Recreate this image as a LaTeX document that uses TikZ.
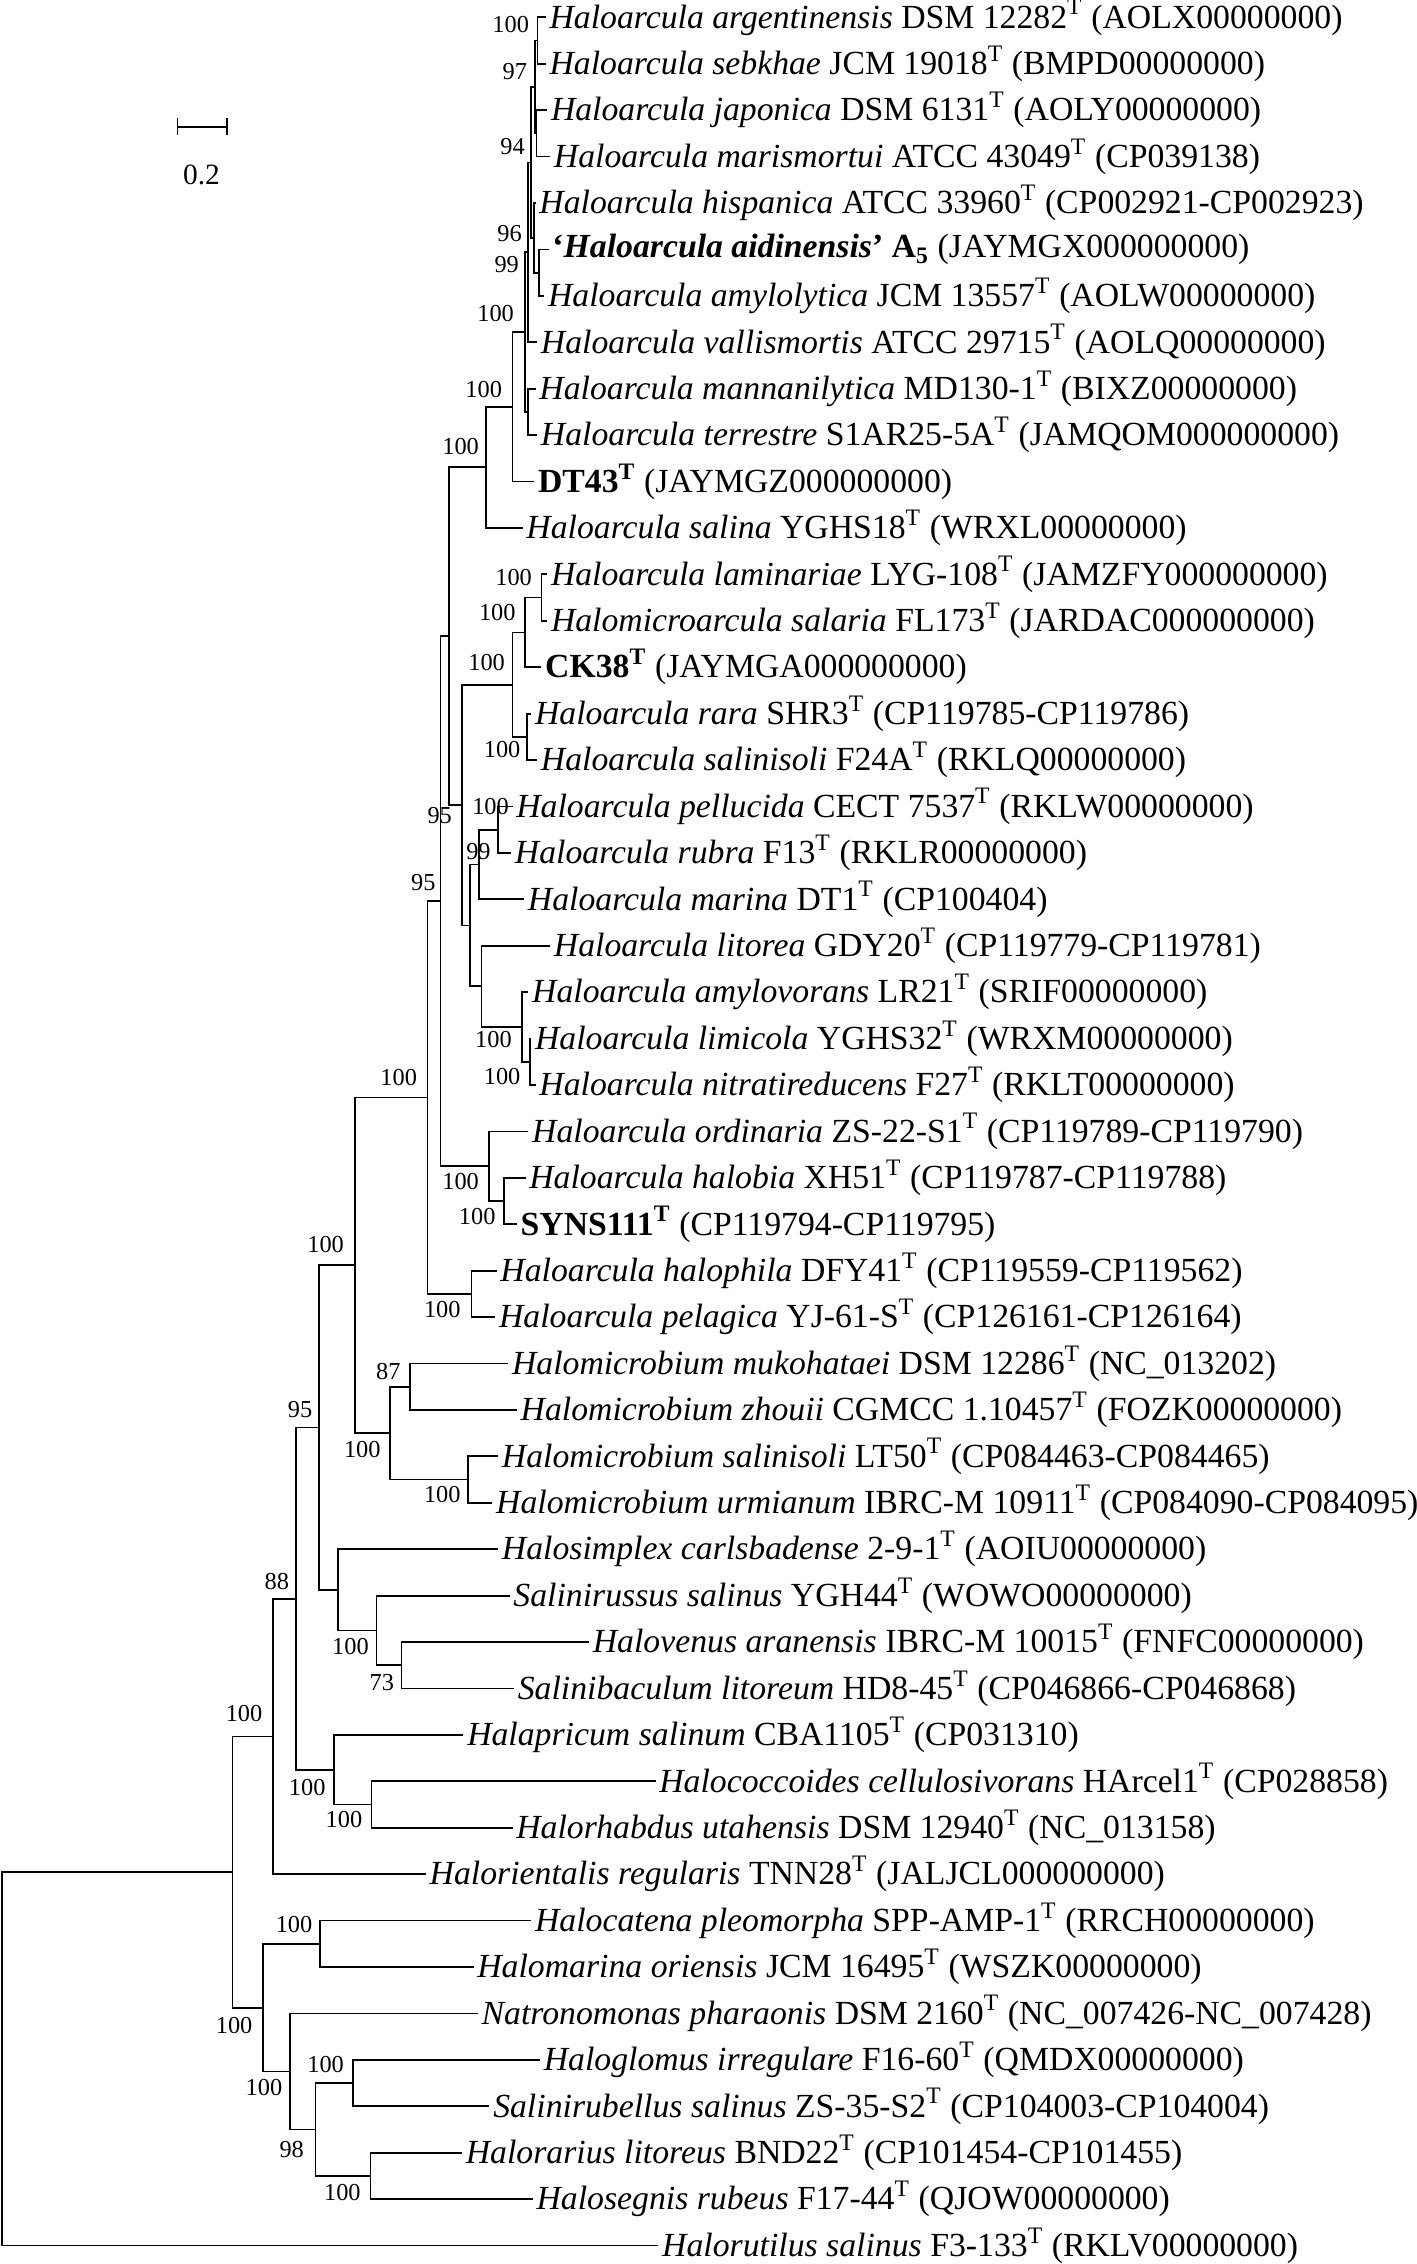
\documentclass[tikz,border=0pt]{standalone}
\usepackage{fontspec}
\setmainfont{Liberation Serif}
\usetikzlibrary{arrows.meta}

\begin{document}
\begin{tikzpicture}[x=0.02cm,y=-0.02cm,line width=0.7pt,
  leaf/.style={anchor=west,inner xsep=0.04cm,inner ysep=0pt,font=\fontsize{13.3}{15}\selectfont},
  boot/.style={anchor=east,inner sep=0pt,font=\fontsize{9.6}{11}\selectfont},
  scl/.style={inner sep=0pt,font=\fontsize{11.6}{13}\selectfont}]
\useasboundingbox (0,0) rectangle (981,1568);
% taxa, one row each
\foreach \x/\t [count=\i] in {
378/{\textit{Haloarcula argentinensis} DSM 12282\textsuperscript{T} (AOLX00000000)},
378/{\textit{Haloarcula sebkhae} JCM 19018\textsuperscript{T} (BMPD00000000)},
379/{\textit{Haloarcula japonica} DSM 6131\textsuperscript{T} (AOLY00000000)},
381/{\textit{Haloarcula marismortui} ATCC 43049\textsuperscript{T} (CP039138)},
371/{\textit{Haloarcula hispanica} ATCC 33960\textsuperscript{T} (CP002921-CP002923)},
380/{\textbf{‘\textit{Haloarcula aidinensis}’ A\textsubscript{5}} (JAYMGX000000000)},
377/{\textit{Haloarcula amylolytica} JCM 13557\textsuperscript{T} (AOLW00000000)},
372/{\textit{Haloarcula vallismortis} ATCC 29715\textsuperscript{T} (AOLQ00000000)},
371/{\textit{Haloarcula mannanilytica} MD130-1\textsuperscript{T} (BIXZ00000000)},
372/{\textit{Haloarcula terrestre} S1AR25-5A\textsuperscript{T} (JAMQOM000000000)},
370/{\textbf{DT43\textsuperscript{T}} (JAYMGZ000000000)},
362/{\textit{Haloarcula salina} YGHS18\textsuperscript{T} (WRXL00000000)},
379/{\textit{Haloarcula laminariae} LYG-108\textsuperscript{T} (JAMZFY000000000)},
379/{\textit{Halomicroarcula salaria} FL173\textsuperscript{T} (JARDAC000000000)},
375/{\textbf{CK38\textsuperscript{T}} (JAYMGA000000000)},
368/{\textit{Haloarcula rara} SHR3\textsuperscript{T} (CP119785-CP119786)},
372/{\textit{Haloarcula salinisoli} F24A\textsuperscript{T} (RKLQ00000000)},
355/{\textit{Haloarcula pellucida} CECT 7537\textsuperscript{T} (RKLW00000000)},
354/{\textit{Haloarcula rubra} F13\textsuperscript{T} (RKLR00000000)},
363/{\textit{Haloarcula marina} DT1\textsuperscript{T} (CP100404)},
381/{\textit{Haloarcula litorea} GDY20\textsuperscript{T} (CP119779-CP119781)},
366/{\textit{Haloarcula amylovorans} LR21\textsuperscript{T} (SRIF00000000)},
368/{\textit{Haloarcula limicola} YGHS32\textsuperscript{T} (WRXM00000000)},
371/{\textit{Haloarcula nitratireducens} F27\textsuperscript{T} (RKLT00000000)},
366/{\textit{Haloarcula ordinaria} ZS-22-S1\textsuperscript{T} (CP119789-CP119790)},
364/{\textit{Haloarcula halobia} XH51\textsuperscript{T} (CP119787-CP119788)},
358/{\textbf{SYNS111\textsuperscript{T}} (CP119794-CP119795)},
344/{\textit{Haloarcula halophila} DFY41\textsuperscript{T} (CP119559-CP119562)},
343/{\textit{Haloarcula pelagica} YJ-61-S\textsuperscript{T} (CP126161-CP126164)},
352/{\textit{Halomicrobium mukohataei} DSM 12286\textsuperscript{T} (NC\_013202)},
358/{\textit{Halomicrobium zhouii} CGMCC 1.10457\textsuperscript{T} (FOZK00000000)},
345/{\textit{Halomicrobium salinisoli} LT50\textsuperscript{T} (CP084463-CP084465)},
341/{\textit{Halomicrobium urmianum} IBRC-M 10911\textsuperscript{T} (CP084090-CP084095)},
345/{\textit{Halosimplex carlsbadense} 2-9-1\textsuperscript{T} (AOIU00000000)},
353/{\textit{Salinirussus salinus} YGH44\textsuperscript{T} (WOWO00000000)},
408/{\textit{Halovenus aranensis} IBRC-M 10015\textsuperscript{T} (FNFC00000000)},
356/{\textit{Salinibaculum litoreum} HD8-45\textsuperscript{T} (CP046866-CP046868)},
321/{\textit{Halapricum salinum} CBA1105\textsuperscript{T} (CP031310)},
454/{\textit{Halococcoides cellulosivorans} HArcel1\textsuperscript{T} (CP028858)},
355/{\textit{Halorhabdus utahensis} DSM 12940\textsuperscript{T} (NC\_013158)},
295/{\textit{Halorientalis regularis} TNN28\textsuperscript{T} (JALJCL000000000)},
368/{\textit{Halocatena pleomorpha} SPP-AMP-1\textsuperscript{T} (RRCH00000000)},
328/{\textit{Halomarina oriensis} JCM 16495\textsuperscript{T} (WSZK00000000)},
331/{\textit{Natronomonas pharaonis} DSM 2160\textsuperscript{T} (NC\_007426-NC\_007428)},
374/{\textit{Haloglomus irregulare} F16-60\textsuperscript{T} (QMDX00000000)},
339/{\textit{Salinirubellus salinus} ZS-35-S2\textsuperscript{T} (CP104003-CP104004)},
320/{\textit{Halorarius litoreus} BND22\textsuperscript{T} (CP101454-CP101455)},
369/{\textit{Halosegnis rubeus} F17-44\textsuperscript{T} (QJOW00000000)},
456/{\textit{Halorutilus salinus} F3-133\textsuperscript{T} (RKLV00000000)}}
  \node[leaf] (l\i) at (\x,{12+(\i-1)*32.15}) {\t};

% internal nodes
\coordinate (argseb) at (372.2,28.08);
\coordinate (japmar) at (371.5,92.38);
\coordinate (argjap) at (370.4,60.23);
\coordinate (aidamy) at (373.5,188.83);
\coordinate (hisaid) at (369.8,164.71);
\coordinate (argc) at (368,112.47);
\coordinate (valc) at (365.7,174.76);
\coordinate (manter) at (365.5,285.28);
\coordinate (manc) at (363.5,230.02);
\coordinate (dtc) at (355,281.76);
\coordinate (salc) at (336.5,323.70);
\coordinate (lamsal) at (375,413.88);
\coordinate (ckc) at (363.5,437.99);
\coordinate (rarsal) at (365,510.33);
\coordinate (rarc) at (355,474.16);
\coordinate (pelrub) at (345,574.63);
\coordinate (marc) at (331.6,598.74);
\coordinate (limnit) at (367,735.38);
\coordinate (amyc) at (361.6,711.26);
\coordinate (litc) at (333.4,683.13);
\coordinate (pelc) at (325.4,640.94);
\coordinate (lamc) at (320,557.55);
\coordinate (upc) at (311,440.63);
\coordinate (halsyn) at (349,831.83);
\coordinate (ordc) at (338.5,807.71);
\coordinate (arcc) at (305,624.17);
\coordinate (phipel) at (326.5,896.13);
\coordinate (arcall) at (296,760.15);
\coordinate (mukzho) at (283.8,960.43);
\coordinate (salurm) at (324.2,1024.73);
\coordinate (micc) at (270,992.58);
\coordinate (arcmic) at (245.8,876.36);
\coordinate (vensal) at (278,1153.33);
\coordinate (rusc) at (260.8,1129.21);
\coordinate (simc) at (234.2,1101.08);
\coordinate (grpa) at (220.8,988.72);
\coordinate (cocrha) at (257.3,1249.78);
\coordinate (aprc) at (231.2,1225.66);
\coordinate (grpb) at (204.8,1107.19);
\coordinate (oric) at (189,1202.60);
\coordinate (catmar) at (221.5,1346.23);
\coordinate (glosal) at (244.6,1442.68);
\coordinate (rarseg) at (256.6,1506.98);
\coordinate (gloc) at (218.5,1474.83);
\coordinate (natc) at (200.8,1434.64);
\coordinate (lowc) at (182.3,1390.43);
\coordinate (ingrp) at (161,1296.52);
\coordinate (root) at (1.5,1425.86);

% branches
\draw (l1.west) -| (argseb) |- (l2.west);
\draw (l3.west) -| (japmar) |- (l4.west);
\draw (argseb) -| (argjap) |- (japmar);
\draw (l6.west) -| (aidamy) |- (l7.west);
\draw (l5.west) -| (hisaid) |- (aidamy);
\draw (argjap) -| (argc) |- (hisaid);
\draw (argc) -| (valc) |- (l8.west);
\draw (l9.west) -| (manter) |- (l10.west);
\draw (valc) -| (manc) |- (manter);
\draw (manc) -| (dtc) |- (l11.west);
\draw (dtc) -| (salc) |- (l12.west);
\draw (l13.west) -| (lamsal) |- (l14.west);
\draw (lamsal) -| (ckc) |- (l15.west);
\draw (l16.west) -| (rarsal) |- (l17.west);
\draw (ckc) -| (rarc) |- (rarsal);
\draw (l18.west) -| (pelrub) |- (l19.west);
\draw (pelrub) -| (marc) |- (l20.west);
\draw (l23.west) -| (limnit) |- (l24.west);
\draw (l22.west) -| (amyc) |- (limnit);
\draw (l21.west) -| (litc) |- (amyc);
\draw (marc) -| (pelc) |- (litc);
\draw (rarc) -| (lamc) |- (pelc);
\draw (salc) -| (upc) |- (lamc);
\draw (l26.west) -| (halsyn) |- (l27.west);
\draw (l25.west) -| (ordc) |- (halsyn);
\draw (upc) -| (arcc) |- (ordc);
\draw (l28.west) -| (phipel) |- (l29.west);
\draw (arcc) -| (arcall) |- (phipel);
\draw (l30.west) -| (mukzho) |- (l31.west);
\draw (l32.west) -| (salurm) |- (l33.west);
\draw (mukzho) -| (micc) |- (salurm);
\draw (arcall) -| (arcmic) |- (micc);
\draw (l36.west) -| (vensal) |- (l37.west);
\draw (l35.west) -| (rusc) |- (vensal);
\draw (l34.west) -| (simc) |- (rusc);
\draw (arcmic) -| (grpa) |- (simc);
\draw (l39.west) -| (cocrha) |- (l40.west);
\draw (l38.west) -| (aprc) |- (cocrha);
\draw (grpa) -| (grpb) |- (aprc);
\draw (grpb) -| (oric) |- (l41.west);
\draw (l42.west) -| (catmar) |- (l43.west);
\draw (l45.west) -| (glosal) |- (l46.west);
\draw (l47.west) -| (rarseg) |- (l48.west);
\draw (glosal) -| (gloc) |- (rarseg);
\draw (l44.west) -| (natc) |- (gloc);
\draw (catmar) -| (lowc) |- (natc);
\draw (oric) -| (ingrp) |- (lowc);
\draw (ingrp) -| (root) |- (l49.west);

% bootstrap values
\foreach \x/\y/\v [count=\k] in {367/17.3/100, 365.6/49.6/97, 364/101.5/94,
  362/161.5/96, 360/183.5/99, 356.5/217/100, 348.3/270/100, 332.3/309/100,
  369/399.7/100, 357.7/424/100, 350.3/459/100, 361/519/100, 353/558.4/100,
  313.6/565/95, 340.4/589.6/99, 302.3/611/95, 355/720/100, 361/745.5/100,
  289.4/746/100, 332.3/818/100, 343.8/842.3/100, 238.8/862/100, 319.6/907/100,
  278/949.6/87, 216.9/976.1/95, 264.2/1003.8/100, 319.6/1035/100, 200.8/1095/88,
  256/1140/100, 273.5/1165/73, 182.3/1186.4/100, 226/1238/100, 251.5/1260/100,
  216.9/1332.6/100, 175.4/1403/100, 238.8/1429.5/100, 196.1/1445.7/100,
  211.1/1488.4/98, 250.4/1518.4/100}
  \node[boot] (bs\k) at (\x,\y) {\v};

% scale bar
\coordinate (sbl) at (122.3,87.7);
\coordinate (sbr) at (158,87.7);
\draw[{Bar[width=0.23cm]}-{Bar[width=0.23cm]}] (sbl) -- (sbr);
\node[scl] (sblab) at (139.6,121) {0.2};
\end{tikzpicture}
\end{document}
